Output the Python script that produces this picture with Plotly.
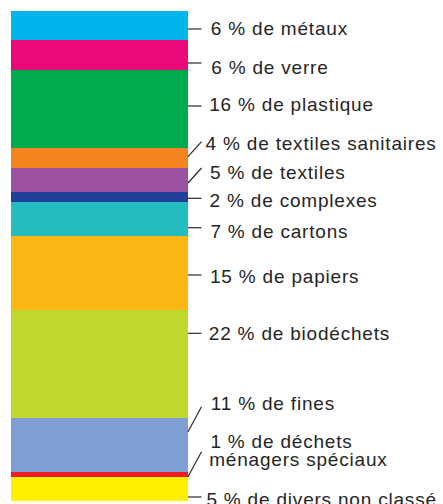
import plotly.graph_objects as go

# --- data (top to bottom as drawn) ---
categories = ["métaux", "verre", "plastique", "textiles sanitaires", "textiles",
              "complexes", "cartons", "papiers", "biodéchets", "fines",
              "déchets ménagers spéciaux", "divers non classé"]
values = [6, 6, 16, 4, 5, 2, 7, 15, 22, 11, 1, 5]
labels = ["6 % de métaux", "6 % de verre", "16 % de plastique",
          "4 % de textiles sanitaires", "5 % de textiles", "2 % de complexes",
          "7 % de cartons", "15 % de papiers", "22 % de biodéchets",
          "11 % de fines", "1 % de déchets<br>ménagers spéciaux",
          "5 % de divers non classé"]
colors = ["#00b4ec", "#e9097a", "#00aa4e", "#f3841f", "#9c52a0", "#22409a",
          "#24bdbf", "#fcb715", "#bfd72f", "#7f9fd4", "#ee1d25", "#fff000"]

# --- layout positions of leader lines / labels (in axis units, 0 = top) ---
leader_start = [3.67, 10.61, 19.39, 29.73, 35.10, 38.22, 44.22, 53.88, 65.78, 85.86, 95.04, 99.18]
leader_end   = [3.67, 10.61, 19.39, 26.67, 32.04, 38.22, 44.22, 53.88, 65.78, 80.76, 89.94, 99.18]
text_y       = [3.67, 11.43, 19.18, 27.08, 32.86, 38.63, 44.96, 54.14, 65.86, 80.06, 89.75, 99.6]

W, H = 443, 504
BAR_L, BAR_R = 11, 188
TOP, BOT = 11, 501
LINE_END_X = 201.5
TEXT_X = 215.0

unit = BAR_R - BAR_L
xr = [-0.5 - BAR_L / unit, 0.5 + (W - BAR_R) / unit]

fig = go.Figure()
for c, v, col in zip(categories, values, colors):
    fig.add_trace(go.Bar(x=[0], y=[v], width=1, name=c, marker=dict(color=col, line=dict(width=0)),
                         showlegend=False, hoverinfo="name+y"))

font = dict(family="Liberation Sans, Arial, Helvetica, sans-serif", size=19, color="#252525")
shapes = []
annotations = []
for i, lab in enumerate(labels):
    shapes.append(dict(type="line", xref="paper", yref="y",
                       x0=BAR_R / W, x1=LINE_END_X / W, y0=leader_start[i], y1=leader_end[i],
                       line=dict(color="#2a2a2a", width=1.2)))
    parts = lab.split("<br>")
    for j, p in enumerate(parts):
        annotations.append(dict(xref="paper", yref="y", x=TEXT_X / W,
                                y=text_y[i] + (j - (len(parts) - 1) / 2) * 3.75,
                                text=p, showarrow=False, xanchor="left", yanchor="middle",
                                font=font, borderpad=0))

fig.update_layout(
    width=W, height=H, barmode="stack", bargap=0,
    margin=dict(l=0, r=0, t=TOP, b=H - BOT, pad=0),
    paper_bgcolor="white", plot_bgcolor="white",
    xaxis=dict(range=xr, visible=False, fixedrange=True),
    yaxis=dict(range=[100, 0], visible=False, fixedrange=True),
    shapes=shapes, annotations=annotations,
)

post = """
document.body.style.margin = '0';
document.body.style.overflow = 'hidden';
var gd = document.getElementById('{plot_id}');
function track() {
  gd.querySelectorAll('.annotation-text').forEach(function (t) { t.style.letterSpacing = '0.8px'; });
}
track();
if (gd.on) { gd.on('plotly_afterplot', track); }
"""
fig.write_html("out.html", post_script=post, config={"displayModeBar": False})
